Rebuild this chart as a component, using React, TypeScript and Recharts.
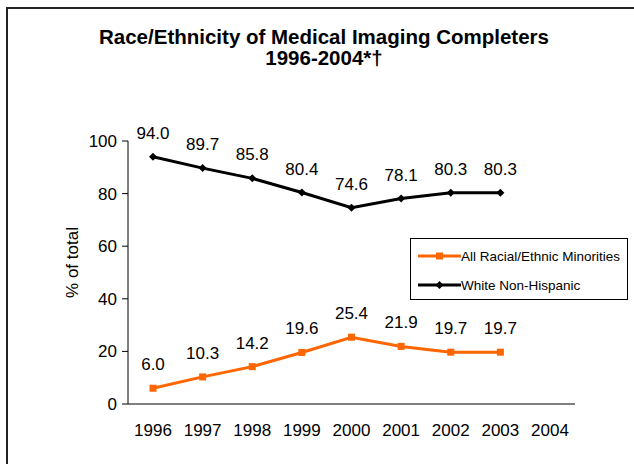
import { LineChart, Line, XAxis, YAxis, LabelList, Legend } from 'recharts'

const years = ['1996', '1997', '1998', '1999', '2000', '2001', '2002', '2003', '2004']
const minorities = [6.0, 10.3, 14.2, 19.6, 25.4, 21.9, 19.7, 19.7, null]
const white = [94.0, 89.7, 85.8, 80.4, 74.6, 78.1, 80.3, 80.3, null]
const yTicks = [0, 20, 40, 60, 80, 100]

const seriesInfo = [
  { key: 'minorities', name: 'All Racial/Ethnic Minorities', color: '#FF6600', shape: 'square' },
  { key: 'white', name: 'White Non-Hispanic', color: '#000000', shape: 'diamond' },
]

const chartData = years.map((year, i) => ({ year, minorities: minorities[i], white: white[i] }))

const font = '"Liberation Sans", Arial, sans-serif'

const SquareDot = (props: any) => {
  const { cx, cy, value } = props
  if (value == null || cx == null) return null
  return <rect x={cx - 3.5} y={cy - 3.5} width={7} height={7} fill="#FF6600" />
}

const DiamondDot = (props: any) => {
  const { cx, cy, value } = props
  if (value == null || cx == null) return null
  return <path d={`M${cx},${cy - 4}L${cx + 4},${cy}L${cx},${cy + 4}L${cx - 4},${cy}Z`} fill="#000" />
}

const fmt = (v: any) => (v == null ? '' : Number(v).toFixed(1))

const YLabel = (props: any) => {
  const vb = props.viewBox || { x: 0, y: 0, height: 0 }
  const x = vb.x + 4
  const y = vb.y + vb.height / 2 - 10
  return (
    <text x={x} y={y} transform={`rotate(-90 ${x} ${y})`} textAnchor="middle" dominantBaseline="central" fill="#000" fontSize={17}>
      % of total
    </text>
  )
}

function LegendBox() {
  return (
    <div
      style={{
        border: '1px solid #000',
        background: '#fff',
        width: 218,
        height: 62,
        boxSizing: 'border-box',
        padding: '6px 0 0 7px',
        fontFamily: font,
        fontSize: 13.5,
        color: '#000',
      }}
    >
      {seriesInfo.map((s) => (
        <div key={s.key} style={{ display: 'flex', alignItems: 'center', height: 22, marginBottom: 7 }}>
          <svg width={43} height={10}>
            <line x1={0} y1={5} x2={43} y2={5} stroke={s.color} strokeWidth={3} />
            {s.shape === 'square' ? (
              <rect x={18} y={1.5} width={7} height={7} fill={s.color} />
            ) : (
              <path d="M21.5,1L25.5,5L21.5,9L17.5,5Z" fill={s.color} />
            )}
          </svg>
          <span>{s.name}</span>
        </div>
      ))}
    </div>
  )
}

export default function App() {
  return (
    <div style={{ position: 'absolute', left: 0, top: 0, width: 634, height: 464, background: '#fff', overflow: 'hidden' }}>
      <div
        style={{
          position: 'absolute',
          left: 6,
          top: 7,
          width: 700,
          height: 600,
          border: '2px solid #222',
          boxSizing: 'border-box',
        }}
      />
      <div
        style={{
          position: 'absolute',
          left: 0,
          top: 26,
          width: 648,
          textAlign: 'center',
          fontFamily: font,
          fontWeight: 'bold',
          fontSize: 20.5,
          lineHeight: '21px',
          color: '#000',
        }}
      >
        Race/Ethnicity of Medical Imaging Completers
        <br />
        1996-2004*†
      </div>
      <div style={{ position: 'absolute', left: 0, top: 0 }}>
        <LineChart
          width={634}
          height={464}
          data={chartData}
          margin={{ top: 141, right: 59, bottom: 30, left: 68 }}
          style={{ fontFamily: font }}
        >
          <XAxis
            dataKey="year"
            height={30}
            tickLine={false}
            axisLine={{ stroke: '#000', strokeWidth: 1 }}
            tick={{ fill: '#000', fontSize: 17 }}
            tickMargin={14}
            padding={{ left: 25, right: 25 }}
            interval={0}
          />
          <YAxis
            width={60}
            domain={[0, 100]}
            ticks={yTicks}
            tick={{ fill: '#000', fontSize: 17 }}
            tickLine={{ stroke: '#000' }}
            axisLine={{ stroke: '#000', strokeWidth: 1 }}
            tickSize={6}
            tickMargin={5}
            label={<YLabel />}
          />
          <Legend
            layout="horizontal"
            verticalAlign="middle"
            align="center"
            content={() => <LegendBox />}
            wrapperStyle={{ left: 410, top: 238, width: 218, height: 62 }}
          />
          <Line
            dataKey="minorities"
            name="All Racial/Ethnic Minorities"
            stroke="#FF6600"
            strokeWidth={3}
            dot={<SquareDot />}
            activeDot={false}
            isAnimationActive={false}
          >
            <LabelList dataKey="minorities" position="top" offset={18} formatter={fmt} style={{ fill: '#000', fontSize: 17 }} />
          </Line>
          <Line
            dataKey="white"
            name="White Non-Hispanic"
            stroke="#000"
            strokeWidth={3}
            dot={<DiamondDot />}
            activeDot={false}
            isAnimationActive={false}
          >
            <LabelList dataKey="white" position="top" offset={18} formatter={fmt} style={{ fill: '#000', fontSize: 17 }} />
          </Line>
        </LineChart>
      </div>
    </div>
  )
}
